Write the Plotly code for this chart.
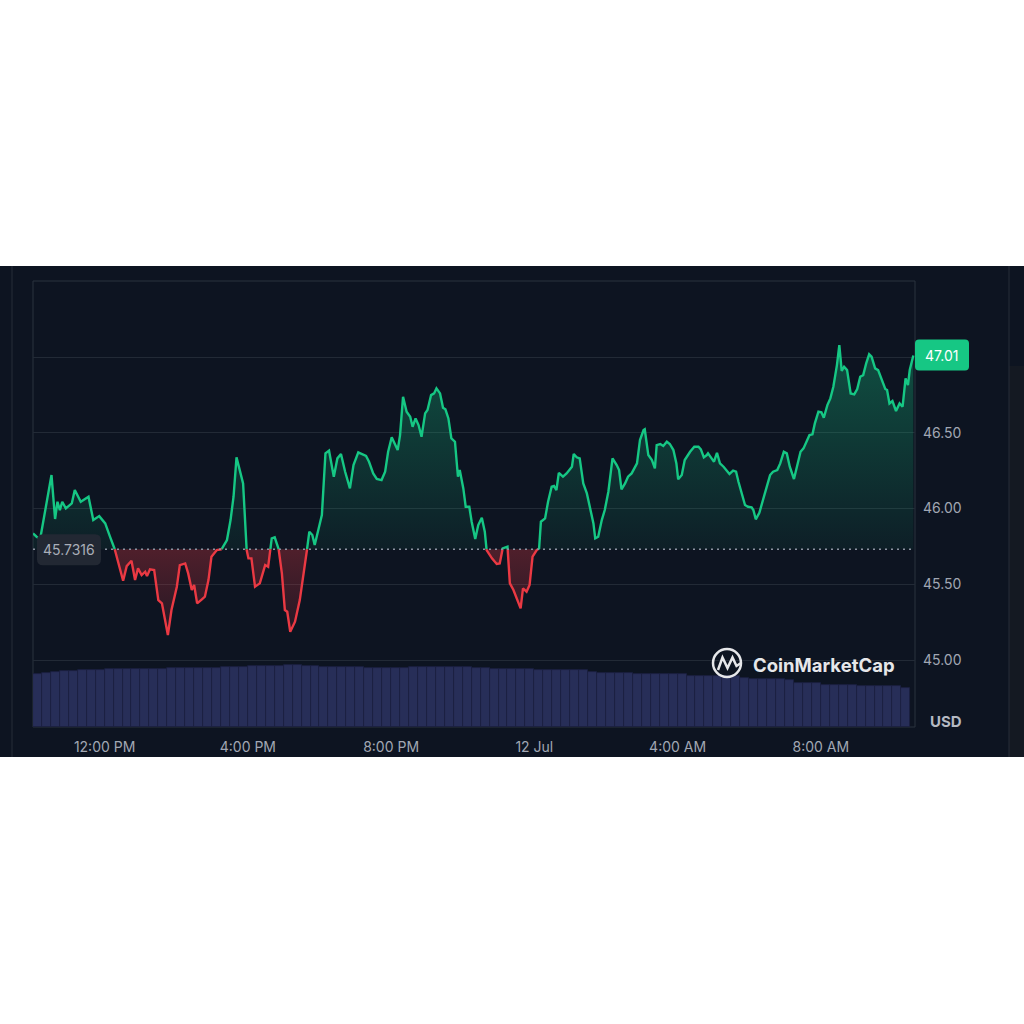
import numpy as np
import pandas as pd
import plotly.graph_objects as go

# ---------------- data ----------------
START = "2024-07-11 10:00"
X_END = "2024-07-12 10:37:48"

# minutes after START for each price reading
MINUTES = [
    0, 6, 12, 31, 37, 41, 45, 49, 55, 65,
    70, 80, 93, 101, 111, 121, 129, 137, 146, 151,
    157, 165, 171, 176, 182, 188, 191, 196, 203, 210,
    216, 226, 232, 241, 246, 255, 260, 266, 270, 275,
    283, 288, 294, 299, 308, 316, 325, 331, 336, 341,
    347, 352, 358, 361, 366, 372, 380, 389, 394, 400,
    405, 411, 417, 422, 426, 431, 439, 447, 454, 459,
    463, 468, 472, 478, 484, 490, 496, 504, 510, 516,
    523, 531, 537, 545, 551, 558, 563, 570, 576, 584,
    590, 595, 601, 607, 611, 615, 620, 626, 632, 636,
    641, 646, 651, 657, 661, 667, 672, 676, 682, 687,
    691, 696, 701, 707, 712, 715, 721, 725, 731, 735,
    741, 746, 752, 757, 760, 769, 777, 782, 787, 795,
    799, 805, 810, 817, 821, 827, 832, 837, 844, 848,
    851, 858, 863, 869, 873, 877, 881, 888, 894, 903,
    906, 911, 916, 922, 928, 934, 939, 942, 947, 953,
    958, 964, 971, 978, 982, 986, 992, 997, 1003, 1012,
    1017, 1023, 1025, 1031, 1037, 1042, 1045, 1051, 1056, 1062,
    1067, 1073, 1078, 1081, 1087, 1092, 1101, 1108, 1115, 1119,
    1124, 1129, 1131, 1137, 1141, 1146, 1151, 1157, 1162, 1167,
    1173, 1178, 1182, 1187, 1193, 1198, 1204, 1207, 1211, 1217,
    1223, 1228, 1235, 1240, 1247, 1252, 1258, 1263, 1268, 1275,
    1281, 1286, 1291, 1296, 1301, 1306, 1310, 1316, 1321, 1325,
    1331, 1336, 1341, 1347, 1351, 1355, 1359, 1364, 1370, 1376,
    1381, 1386, 1391, 1396, 1401, 1405, 1411, 1416, 1422, 1428,
    1431, 1435, 1440, 1446, 1452, 1457, 1462, 1466, 1469, 1475,
]

PRICES = [
    45.836, 45.814, 45.799, 46.221, 45.931, 46.045, 45.990, 46.045, 46.001, 46.034,
    46.122, 46.045, 46.078, 45.924, 45.950, 45.902, 45.814, 45.731, 45.594, 45.523,
    45.620, 45.655, 45.528, 45.605, 45.561, 45.583, 45.554, 45.599, 45.594, 45.396,
    45.374, 45.165, 45.330, 45.484, 45.627, 45.638, 45.572, 45.462, 45.495, 45.374,
    45.401, 45.418, 45.528, 45.682, 45.726, 45.731, 45.792, 45.924, 46.078, 46.338,
    46.232, 46.166, 45.726, 45.671, 45.671, 45.484, 45.506, 45.627, 45.616, 45.803,
    45.810, 45.748, 45.572, 45.330, 45.319, 45.187, 45.253, 45.396, 45.594, 45.726,
    45.847, 45.825, 45.759, 45.858, 45.957, 46.364, 46.382, 46.210, 46.331, 46.360,
    46.243, 46.133, 46.287, 46.371, 46.358, 46.347, 46.309, 46.232, 46.195, 46.188,
    46.243, 46.375, 46.470, 46.419, 46.386, 46.485, 46.738, 46.639, 46.606, 46.540,
    46.595, 46.551, 46.474, 46.628, 46.650, 46.749, 46.760, 46.793, 46.760, 46.665,
    46.655, 46.595, 46.463, 46.441, 46.210, 46.254, 46.133, 46.012, 46.012, 45.913,
    45.799, 45.891, 45.939, 45.847, 45.726, 45.671, 45.634, 45.638, 45.737, 45.748,
    45.506, 45.462, 45.407, 45.341, 45.473, 45.451, 45.495, 45.682, 45.726, 45.737,
    45.913, 45.935, 46.045, 46.144, 46.149, 46.122, 46.236, 46.210, 46.232, 46.276,
    46.360, 46.338, 46.331, 46.166, 46.100, 45.990, 45.902, 45.803, 45.814, 45.924,
    45.990, 46.111, 46.331, 46.287, 46.254, 46.127, 46.166, 46.210, 46.232, 46.298,
    46.452, 46.518, 46.523, 46.353, 46.320, 46.265, 46.419, 46.426, 46.413, 46.441,
    46.426, 46.386, 46.298, 46.193, 46.221, 46.320, 46.375, 46.408, 46.408, 46.391,
    46.338, 46.353, 46.364, 46.331, 46.309, 46.368, 46.298, 46.276, 46.254, 46.228,
    46.250, 46.243, 46.177, 46.100, 46.023, 46.012, 46.008, 45.990, 45.929, 45.972,
    46.056, 46.133, 46.221, 46.243, 46.254, 46.298, 46.375, 46.364, 46.276, 46.195,
    46.298, 46.375, 46.397, 46.441, 46.485, 46.490, 46.562, 46.639, 46.635, 46.599,
    46.683, 46.727, 46.804, 46.947, 47.079, 46.908, 46.936, 46.914, 46.760, 46.754,
    46.789, 46.870, 46.881, 46.958, 47.018, 47.002, 46.925, 46.914, 46.848, 46.789,
    46.782, 46.694, 46.710, 46.644, 46.694, 46.672, 46.859, 46.815, 46.914, 47.010,
]

BASE_PRICE = 45.7316
LAST_PRICE = 47.01

# 15-minute volume (millions USD)
VOLUME_M = [
    106, 109, 111, 112, 113, 114, 114.4, 114.8, 115.2, 115.6,
    116, 116, 116.4, 116.8, 117, 117.2, 117.4, 117.6, 118, 118.4,
    119, 120, 120.6, 121, 121.6, 122, 122.6, 123, 124, 125,
    123, 122, 121, 120.6, 120.6, 120.6, 120.6, 119, 117.4, 117.4,
    117.4, 117.4, 119.4, 120, 120.6, 120.6, 120.6, 120.6, 120.6, 119,
    117.4, 117, 115.4, 115.4, 115.4, 115.4, 114, 114, 114, 114,
    114, 114, 111, 108.6, 108.6, 108.6, 108, 106, 106, 106,
    106, 106, 106, 103, 102.6, 102.6, 102.6, 102.6, 102, 98,
    95.4, 95.4, 95.4, 95.4, 94, 88.6, 88.6, 88.6, 84, 84,
    84, 84, 82, 82, 82, 82, 82, 78,
]
VOL_STEP_MIN = 15

X_TICKS = ["2024-07-11 12:00", "2024-07-11 16:00", "2024-07-11 20:00",
           "2024-07-12 00:00", "2024-07-12 04:00", "2024-07-12 08:00"]
X_TICK_LABELS = ["12:00 PM", "4:00 PM", "8:00 PM", "12 Jul", "4:00 AM", "8:00 AM"]
Y_TICKS = [45.0, 45.5, 46.0, 46.5, 47.0, 47.5]
Y_TICK_LABELS = ["45.00", "45.50", "46.00", "46.50", "", ""]

# ---------------- style / layout constants ----------------
BG = "#0d1421"
GREEN = "#16c784"
RED = "#ea3943"
GRID = "#222a36"
TICK_COLOR = "#a1a7b3"
FONT = "Inter, Roboto, sans-serif"
Y_MIN, Y_MAX = 44.558, 47.502
VOL_MAX = 892

PL, PR, PT, PB = 33, 915, 281, 727
W, H = PR - PL, PB - PT


def px_x(p):
    return (p - PL) / W


def px_y(p):
    return (PB - p) / H


def val_y(v):
    return (v - Y_MIN) / (Y_MAX - Y_MIN)


def rrect(x0, x1, y0, y1, r):
    """rounded rect path in paper coords, inputs in pixels (y0 top, y1 bottom)."""
    X0, X1 = px_x(x0), px_x(x1)
    Yt, Yb = px_y(y0), px_y(y1)
    rx, ry = r / W, r / H
    return (f"M {X0+rx},{Yt} L {X1-rx},{Yt} Q {X1},{Yt} {X1},{Yt-ry} "
            f"L {X1},{Yb+ry} Q {X1},{Yb} {X1-rx},{Yb} L {X0+rx},{Yb} "
            f"Q {X0},{Yb} {X0},{Yb+ry} L {X0},{Yt-ry} Q {X0},{Yt} {X0+rx},{Yt} Z")


# ---------------- split at baseline crossings ----------------
mins, vals = [], []
for i in range(len(MINUTES)):
    if i > 0:
        a, b = PRICES[i - 1], PRICES[i]
        if (a - BASE_PRICE) * (b - BASE_PRICE) < 0:
            f = (BASE_PRICE - a) / (b - a)
            mins.append(MINUTES[i - 1] + f * (MINUTES[i] - MINUTES[i - 1]))
            vals.append(BASE_PRICE)
    mins.append(MINUTES[i])
    vals.append(PRICES[i])

t0 = pd.Timestamp(START)
times = t0 + pd.to_timedelta(np.array(mins), unit="m")
vals = np.array(vals)
up_vals = np.maximum(vals, BASE_PRICE)
dn_vals = np.minimum(vals, BASE_PRICE)
green_line = [v if v >= BASE_PRICE else None for v in vals]
red_line = [v if v <= BASE_PRICE else None for v in vals]

vol_times = t0 + pd.to_timedelta(np.arange(len(VOLUME_M)) * VOL_STEP_MIN + VOL_STEP_MIN / 2, unit="m")

fig = go.Figure()

fig.add_trace(go.Bar(
    x=vol_times, y=VOLUME_M, yaxis="y2",
    marker=dict(color="#272e58", line=dict(width=0.8, color="#1a2040")),
    width=VOL_STEP_MIN * 60 * 1000, hoverinfo="skip",
))

base_x = [times[0], times[-1]]
fig.add_trace(go.Scatter(x=base_x, y=[BASE_PRICE, BASE_PRICE], mode="lines",
                         line=dict(width=0), hoverinfo="skip"))
fig.add_trace(go.Scatter(
    x=times, y=up_vals, mode="lines", line=dict(width=0), fill="tonexty",
    fillgradient=dict(type="vertical", start=BASE_PRICE, stop=47.1,
                      colorscale=[[0, "rgba(22,199,132,0.06)"], [1, "rgba(22,199,132,0.34)"]]),
    hoverinfo="skip"))
fig.add_trace(go.Scatter(x=base_x, y=[BASE_PRICE, BASE_PRICE], mode="lines",
                         line=dict(width=0), hoverinfo="skip"))
fig.add_trace(go.Scatter(
    x=times, y=dn_vals, mode="lines", line=dict(width=0), fill="tonexty",
    fillgradient=dict(type="vertical", start=45.15, stop=BASE_PRICE,
                      colorscale=[[0, "rgba(234,57,67,0.10)"], [1, "rgba(234,57,67,0.30)"]]),
    hoverinfo="skip"))
fig.add_trace(go.Scatter(x=times, y=green_line, mode="lines",
                         line=dict(color=GREEN, width=2.4), connectgaps=False))
fig.add_trace(go.Scatter(x=times, y=red_line, mode="lines",
                         line=dict(color=RED, width=2.4), connectgaps=False))

shapes = [
    # dark screenshot band
    dict(type="rect", xref="paper", yref="paper", x0=px_x(0), x1=px_x(1024),
         y0=px_y(757), y1=px_y(266), fillcolor=BG, line=dict(width=0), layer="below"),
    dict(type="rect", xref="paper", yref="paper", x0=px_x(1009), x1=px_x(1024),
         y0=px_y(757), y1=px_y(366), fillcolor="#141922", line=dict(width=0), layer="below"),
    dict(type="line", xref="paper", yref="paper", x0=px_x(12), x1=px_x(12),
         y0=px_y(757), y1=px_y(266), line=dict(color="#262d38", width=1), layer="below"),
    dict(type="line", xref="paper", yref="paper", x0=px_x(1009), x1=px_x(1009),
         y0=px_y(757), y1=px_y(266), line=dict(color="#262d38", width=1), layer="below"),
    # plot frame
    dict(type="rect", xref="paper", yref="paper", x0=0, x1=1, y0=0, y1=1,
         line=dict(color="#2b323e", width=1), fillcolor="rgba(0,0,0,0)", layer="below"),
    # baseline
    dict(type="line", xref="paper", yref="y", x0=0, x1=1, y0=BASE_PRICE, y1=BASE_PRICE,
         line=dict(color="#8b93a1", width=1.5, dash="2px,4px"), layer="above"),
]

by = PB - val_y(BASE_PRICE) * H
ly = PB - val_y(LAST_PRICE) * H
shapes.append(dict(type="path", xref="paper", yref="paper",
                   path=rrect(37, 101, by - 15, by + 16, 6),
                   fillcolor="#222833", line=dict(width=0), layer="above"))
shapes.append(dict(type="path", xref="paper", yref="paper",
                   path=rrect(915, 969, ly - 16, ly + 15, 4),
                   fillcolor=GREEN, line=dict(width=0), layer="above"))
# CoinMarketCap logo
shapes.append(dict(type="circle", xref="paper", yref="paper",
                   x0=px_x(713), x1=px_x(741), y0=px_y(677), y1=px_y(649),
                   line=dict(color="#e6e7ea", width=2.5), fillcolor="rgba(0,0,0,0)", layer="above"))
logo_pts = [(718, 670), (722.5, 657.5), (727.5, 668), (732.5, 657.5), (736.5, 666), (741, 663)]
logo_path = "M " + " L ".join(f"{px_x(x)},{px_y(y)}" for x, y in logo_pts)
shapes.append(dict(type="path", xref="paper", yref="paper", path=logo_path,
                   line=dict(color="#e6e7ea", width=2.5), layer="above"))

annotations = [
    dict(x=px_x(69), y=px_y(by + 0.5), xref="paper", yref="paper", text="45.7316",
         showarrow=False, font=dict(family=FONT, size=14, color="#a9aeb8"),
         xanchor="center", yanchor="middle"),
    dict(x=px_x(942), y=px_y(ly), xref="paper", yref="paper", text="47.01",
         showarrow=False, font=dict(family=FONT, size=14, color="#ffffff"),
         xanchor="center", yanchor="middle"),
    dict(x=px_x(946), y=px_y(721), xref="paper", yref="paper", text="<b>USD</b>",
         showarrow=False, font=dict(family=FONT, size=15, color="#b4b9c2"),
         xanchor="center", yanchor="middle"),
    dict(x=px_x(751), y=px_y(665), xref="paper", yref="paper", text="<b>CoinMarketCap</b>",
         showarrow=False, font=dict(family=FONT, size=18.5, color="#e6e7ea"),
         xanchor="left", yanchor="middle"),
]

fig.update_layout(
    width=1024, height=1024,
    margin=dict(l=PL, r=1024 - PR, t=PT, b=1024 - PB),
    paper_bgcolor="white", plot_bgcolor=BG,
    showlegend=False, bargap=0,
    font=dict(family=FONT, color=TICK_COLOR),
    xaxis=dict(type="date", range=[START, X_END], tickvals=X_TICKS, ticktext=X_TICK_LABELS,
               showgrid=False, zeroline=False, showline=False, ticks="",
               tickfont=dict(family=FONT, size=14, color=TICK_COLOR),
               ticklabelstandoff=10, fixedrange=True),
    yaxis=dict(range=[Y_MIN, Y_MAX], side="right", tickvals=Y_TICKS, ticktext=Y_TICK_LABELS,
               showgrid=True, gridcolor=GRID, gridwidth=1, zeroline=False, showline=False,
               ticks="", tickfont=dict(family=FONT, size=14, color=TICK_COLOR),
               ticklabelstandoff=7, fixedrange=True),
    yaxis2=dict(range=[0, VOL_MAX], overlaying="y", visible=False, fixedrange=True),
    shapes=shapes,
    annotations=annotations,
)

fig.write_html("out.html")
